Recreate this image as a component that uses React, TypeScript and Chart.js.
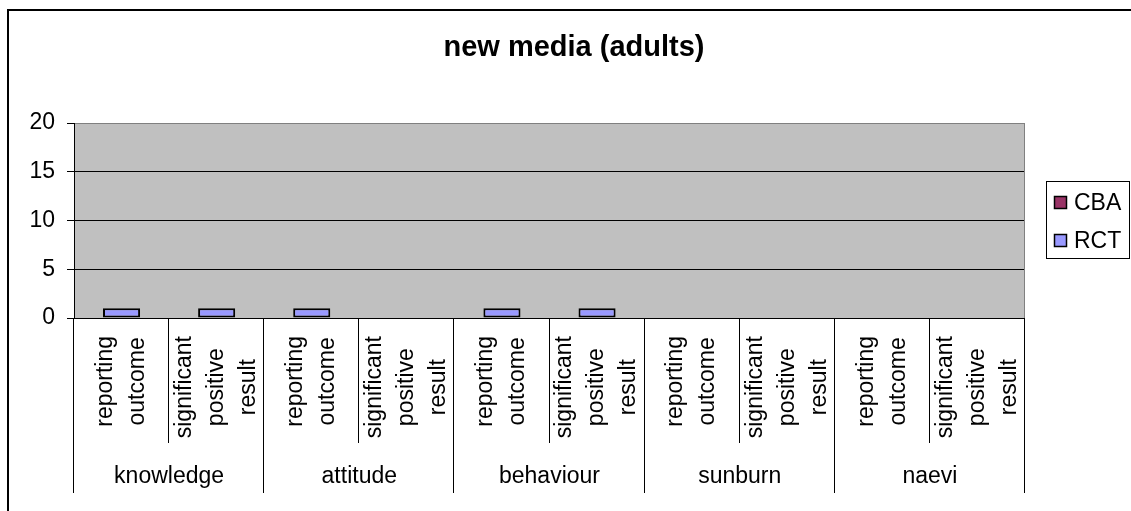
import { useEffect, useRef } from "react";
import { Chart, registerables } from "chart.js";

Chart.register(...registerables);

const chartTitle = "new media (adults)";
const groups = ["knowledge", "attitude", "behaviour", "sunburn", "naevi"];
const subLabels: string[][] = [
  ["reporting", "outcome"],
  ["significant", "positive", "result"],
];
const categories = groups.flatMap((g) => subLabels.map((s) => g + ": " + s.join(" ")));
const rctValues = [1, 1, 1, 0, 1, 1, 0, 0, 0, 0];
const cbaValues = [0, 0, 0, 0, 0, 0, 0, 0, 0, 0];
const seriesNames = ["RCT", "CBA"];
const seriesColors = ["#9999FF", "#993366"];
const yMin = 0;
const yMax = 20;
const yStep = 5;

const FONT = '"Liberation Sans", Arial, Helvetica, sans-serif';

const excelPlugin = {
  id: "excelLook",
  beforeDraw(chart: any) {
    const { ctx, chartArea: a, width, height } = chart;
    ctx.save();
    ctx.fillStyle = "#FFFFFF";
    ctx.fillRect(0, 0, width, height);
    // outer frame
    ctx.strokeStyle = "#000000";
    ctx.lineWidth = 2;
    ctx.strokeRect(8, 10, width + 40, height + 40);
    // plot area
    ctx.fillStyle = "#C0C0C0";
    ctx.fillRect(a.left, a.top, a.right - a.left, a.bottom - a.top);
    // title
    ctx.fillStyle = "#000000";
    ctx.font = "bold 29px " + FONT;
    ctx.textAlign = "center";
    ctx.textBaseline = "alphabetic";
    ctx.fillText(chartTitle, 574, 56);
    ctx.restore();
  },
  afterDraw(chart: any) {
    const { ctx, chartArea: a } = chart;
    const xs = chart.scales.x;
    const n = categories.length;
    const half = (xs.getPixelForValue(1) - xs.getPixelForValue(0)) / 2;
    ctx.save();
    // right plot border
    ctx.strokeStyle = "#808080";
    ctx.lineWidth = 1;
    ctx.beginPath();
    ctx.moveTo(Math.round(a.right) - 0.5, a.top);
    ctx.lineTo(Math.round(a.right) - 0.5, a.bottom);
    ctx.stroke();
    // separators
    ctx.strokeStyle = "#000000";
    for (let i = 0; i <= n; i++) {
      const x = Math.round(i < n ? xs.getPixelForValue(i) - half : xs.getPixelForValue(n - 1) + half) - 0.5;
      const isGroup = i % subLabels.length === 0;
      ctx.beginPath();
      ctx.moveTo(x, a.bottom);
      ctx.lineTo(x, a.bottom + (isGroup ? 175 : 125));
      ctx.stroke();
    }
    // sub labels
    ctx.fillStyle = "#000000";
    ctx.font = "23px " + FONT;
    const pitch = 32;
    for (let i = 0; i < n; i++) {
      const cx = xs.getPixelForValue(i);
      const lines = subLabels[i % subLabels.length];
      const maxW = Math.max(...lines.map((l) => ctx.measureText(l).width));
      ctx.save();
      ctx.translate(cx, a.bottom + 18 + maxW / 2);
      ctx.rotate(-Math.PI / 2);
      ctx.textAlign = "center";
      ctx.textBaseline = "middle";
      lines.forEach((l, k) => ctx.fillText(l, 0, (k - (lines.length - 1) / 2) * pitch));
      ctx.restore();
    }
    // group labels
    ctx.textAlign = "center";
    ctx.textBaseline = "middle";
    groups.forEach((g, gi) => {
      const i0 = gi * subLabels.length;
      const i1 = i0 + subLabels.length - 1;
      const cx = (xs.getPixelForValue(i0) + xs.getPixelForValue(i1)) / 2;
      ctx.fillText(g, cx, a.bottom + 159);
    });
    // legend
    const lx = 1046.5, ly = 181.5, lw = 83, lh = 77;
    ctx.strokeStyle = "#000000";
    ctx.strokeRect(lx, ly, lw, lh);
    const ds = chart.data.datasets;
    const order = ds.map((_: any, i: number) => i).reverse();
    order.forEach((di: number, k: number) => {
      const yc = 203 + k * 38;
      ctx.fillStyle = ds[di].backgroundColor;
      ctx.fillRect(1054.5, yc - 6.5, 12, 12);
      ctx.strokeStyle = "#000000";
      ctx.lineWidth = 1.5;
      ctx.strokeRect(1054.5, yc - 6.5, 12, 12);
      ctx.lineWidth = 1;
      ctx.fillStyle = "#000000";
      ctx.textAlign = "left";
      ctx.textBaseline = "middle";
      ctx.font = "23px " + FONT;
      ctx.fillText(ds[di].label, 1074, yc + 1);
    });
    ctx.restore();
  },
};

export default function App() {
  const ref = useRef<HTMLCanvasElement | null>(null);
  useEffect(() => {
    if (!ref.current) return;
    const chart = new Chart(ref.current, {
      type: "bar",
      data: {
        labels: categories,
        datasets: [
          {
            label: seriesNames[0],
            data: rctValues,
            backgroundColor: seriesColors[0],
            borderColor: "#000000",
            borderWidth: 2,
            borderSkipped: false,
            barPercentage: 0.39,
            categoryPercentage: 1,
          },
          {
            label: seriesNames[1],
            data: cbaValues,
            backgroundColor: seriesColors[1],
            borderColor: "#000000",
            borderWidth: 0,
            barPercentage: 0.39,
            categoryPercentage: 1,
          },
        ],
      },
      options: {
        responsive: false,
        animation: false,
        devicePixelRatio: 1,
        layout: { padding: { left: 0, right: 106, top: 123, bottom: 193 } },
        plugins: {
          legend: { display: false },
          title: { display: false },
          tooltip: { enabled: false },
        },
        scales: {
          x: { display: false, stacked: true },
          y: {
            stacked: true,
            min: yMin,
            max: yMax,
            afterFit: (scale: any) => {
              scale.width = 74;
            },
            ticks: {
              stepSize: yStep,
              color: "#000000",
              padding: 12,
              font: { family: FONT, size: 23 },
            },
            grid: {
              color: (c: any) => (c.tick && c.tick.value === yMax ? "#808080" : "#000000"),
              tickColor: "#000000",
              tickLength: 7,
              lineWidth: 1,
            },
            border: { display: true, color: "#000000", width: 1 },
          },
        },
      },
      plugins: [excelPlugin],
    });
    return () => chart.destroy();
  }, []);
  return (
    <div style={{ position: "fixed", left: 0, top: 0, width: 1131, height: 511 }}>
      <canvas ref={ref} width={1131} height={511} style={{ width: 1131, height: 511, display: "block" }} />
    </div>
  );
}
